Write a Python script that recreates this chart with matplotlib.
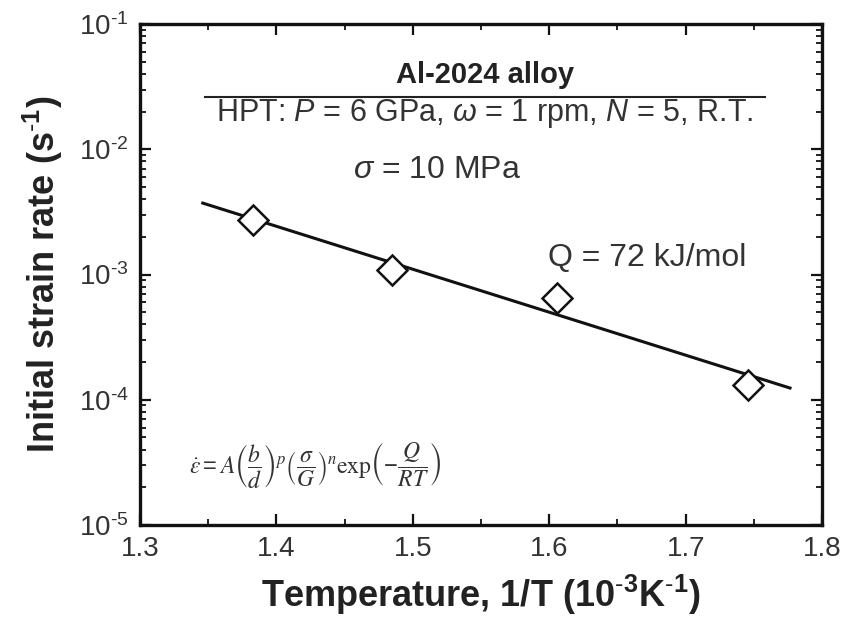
import math
import matplotlib
matplotlib.use("Agg")
import matplotlib.pyplot as plt
from matplotlib.ticker import MultipleLocator, LogLocator, NullFormatter, FuncFormatter

# -----------------------------
# Data
# -----------------------------
inv_T = [1.383, 1.485, 1.606, 1.746]          # 1/T (10^-3 K^-1)
strain_rate = [2.72e-3, 1.09e-3, 6.5e-4, 1.31e-4]  # s^-1
fit_x = [1.346, 1.7765]
fit_y = [3.72e-3, 1.24e-4]

plt.rcParams['font.family'] = ['Liberation Sans', 'DejaVu Sans']
plt.rcParams['mathtext.fontset'] = 'custom'
plt.rcParams['mathtext.rm'] = 'Liberation Sans'
plt.rcParams['mathtext.it'] = 'Liberation Sans:italic'
plt.rcParams['mathtext.bf'] = 'Liberation Sans:bold'
plt.rcParams['mathtext.default'] = 'regular'
plt.rcParams['axes.unicode_minus'] = False


def pow10(v, pos):
    # 10^n with a plain hyphen as minus, like the original figure
    e = int(round(math.log10(v)))
    return r'$10^{\text{-}%d}$' % abs(e) if e < 0 else r'$10^{%d}$' % e


fig = plt.figure(figsize=(8.51, 6.34), dpi=100)
ax = fig.add_axes([0.1645, 0.172, 0.8015, 0.79])

ax.plot(fit_x, fit_y, color='#111111', lw=2.2, zorder=2)
ax.plot(inv_T, strain_rate, ls='none', marker='D', ms=15, mfc='white',
        mec='#111111', mew=1.8, zorder=3)

ax.set_yscale('log')
ax.set_xlim(1.3, 1.8)
ax.set_ylim(1e-5, 1e-1)
ax.xaxis.set_major_locator(MultipleLocator(0.1))
ax.xaxis.set_minor_locator(MultipleLocator(0.05))
ax.yaxis.set_major_locator(LogLocator(base=10, numticks=10))
ax.yaxis.set_major_formatter(FuncFormatter(pow10))
ax.yaxis.set_minor_locator(LogLocator(base=10, subs=range(2, 10), numticks=100))
ax.yaxis.set_minor_formatter(NullFormatter())

ax.tick_params(which='both', direction='in', top=True, right=True,
               labelsize=20, pad=8, colors='#111111', labelcolor='#333333')
ax.tick_params(which='major', length=8, width=1.6)
ax.tick_params(which='minor', length=4, width=1.3)
for s in ax.spines.values():
    s.set_linewidth(2.4)
    s.set_color('#111111')

ax.set_xlabel(r'Temperature, 1/T (10$^{\text{-}3}$K$^{\text{-}1}$)', fontsize=26,
              fontweight='bold', color='#222222', labelpad=8)
ax.set_ylabel(r'Initial strain rate (s$^{\text{-}1}$)', fontsize=26,
              fontweight='bold', color='#222222', labelpad=10)

# annotations
ax.text(0.506, 0.898, 'Al-2024 alloy', transform=ax.transAxes, ha='center',
        va='center', fontsize=21, fontweight='bold', color='#222222')
ax.plot([0.095, 0.916], [0.854, 0.854], transform=ax.transAxes,
        color='#222222', lw=1.5)
ax.text(0.506, 0.822, r'HPT: $\mathit{P}$ = 6 GPa, $\mathit{\omega}$ = 1 rpm, $\mathit{N}$ = 5, R.T.',
        transform=ax.transAxes, ha='center', va='center', fontsize=22,
        color='#333333')
ax.text(0.435, 0.709, r'$\mathit{\sigma}$ = 10 MPa', transform=ax.transAxes,
        ha='center', va='center', fontsize=23, color='#333333')
ax.text(0.743, 0.533, 'Q = 72 kJ/mol', transform=ax.transAxes,
        ha='center', va='center', fontsize=23, color='#333333')
ax.text(0.257, 0.12,
        r'$\dot{\mathit{\varepsilon}} = \mathit{A}\left(\dfrac{\mathit{b}}{\mathit{d}}\right)^{\mathit{p}}'
        r'\left(\dfrac{\mathit{\sigma}}{\mathit{G}}\right)^{\mathit{n}}\mathrm{exp}'
        r'\left(-\dfrac{\mathit{Q}}{\mathit{RT}}\right)$',
        transform=ax.transAxes, ha='center', va='center', fontsize=17,
        color='#333333', math_fontfamily='stix')

fig.savefig('out.png', dpi=100)
